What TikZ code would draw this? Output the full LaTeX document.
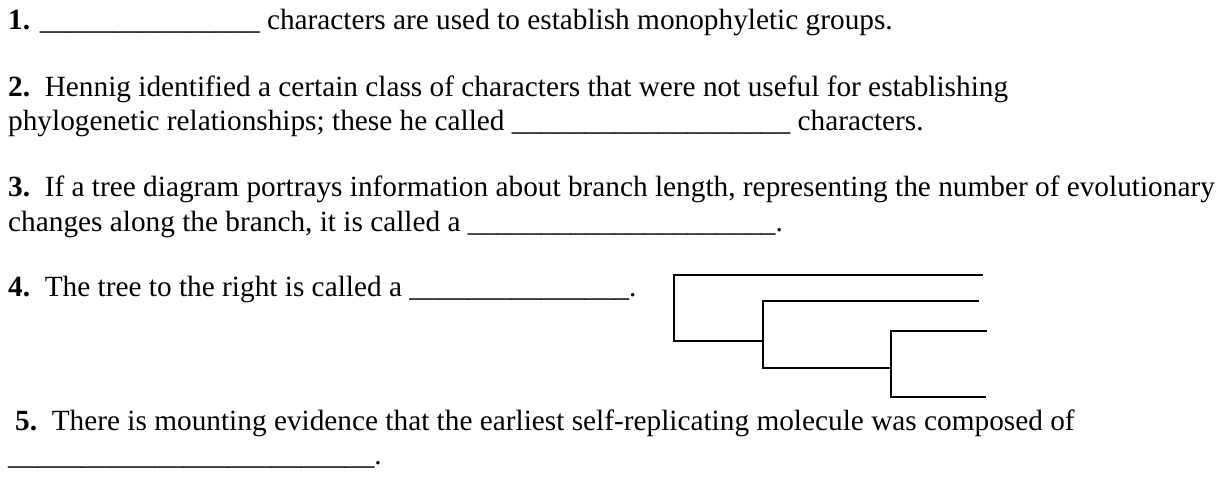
\documentclass[tikz,border=0pt]{standalone}
\usepackage{fontspec}
\setmainfont{Liberation Serif}
\newcommand\ublank[1]{\foreach \i in {1,...,#1}{\_}}
\begin{document}
\begin{tikzpicture}[x=1pt,y=-1pt,
  txt/.style={anchor=base west, inner sep=0pt, font=\fontsize{29.3}{34}\selectfont},
  branch/.style={line width=2pt, line cap=rect}]
\useasboundingbox (0,0) rectangle (1225,477);
\node[txt] (q1)  at (8,29)   {\textbf{1.} \ublank{15} characters are used to establish monophyletic groups.};
\node[txt] (q2)  at (8,96)   {\textbf{2.}\ \ Hennig identified a certain class of characters that were not useful for establishing};
\node[txt] (q2b) at (8,130)  {phylogenetic relationships; these he called \ublank{19} characters.};
\node[txt] (q3)  at (8,196)  {\textbf{3.}\ \ If a tree diagram portrays information about branch length, representing the number of evolutionary};
\node[txt] (q3b) at (8,231)  {changes along the branch, it is called a \ublank{21}.};
\node[txt] (q4)  at (8,296)  {\textbf{4.}\ \ The tree to the right is called a \ublank{15}.};
\node[txt] (q5)  at (15,430) {\textbf{5.}\ \ There is mounting evidence that the earliest self-replicating molecule was composed of};
\node[txt] (q5b) at (8,464)  {\ublank{25}.};
% tree
\coordinate (r0) at (674,341);
\coordinate (rt) at (674,274.5);
\coordinate (l1) at (982,274.5);
\coordinate (n1) at (763,341);
\coordinate (n1t) at (763,300.5);
\coordinate (n1b) at (763,367.5);
\coordinate (l2) at (978,300.5);
\coordinate (n2) at (891,367.5);
\coordinate (n2t) at (891,330.5);
\coordinate (n2b) at (891,396.5);
\coordinate (l3) at (986,330.5);
\coordinate (l4) at (985,396.5);
\draw[branch] (l1) -- (rt) -- (r0) -- (n1);
\draw[branch] (l2) -- (n1t) -- (n1b) -- (n2);
\draw[branch] (l3) -- (n2t) -- (n2b) -- (l4);
\end{tikzpicture}
\end{document}
